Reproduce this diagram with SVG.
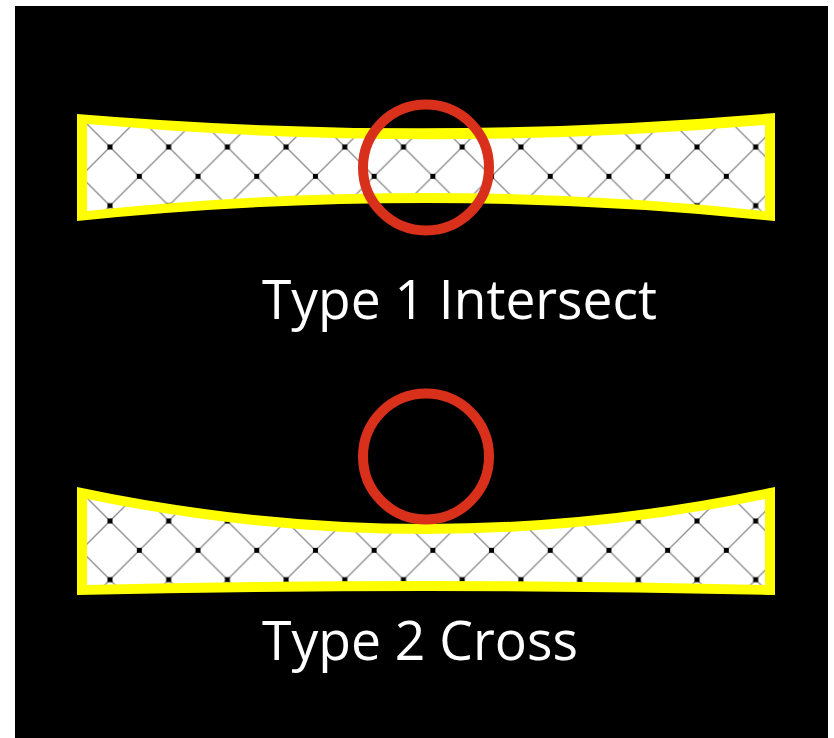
<svg xmlns="http://www.w3.org/2000/svg" width="834" height="738" viewBox="0 0 834 738">
<defs>
<style>
.lbl{font-family:"Open Sans","Noto Sans","Liberation Sans",sans-serif;font-size:54px;fill:#ffffff}
.ring{fill:none;stroke:#d8301b;stroke-width:10}
.frame{fill:#ffff00}
.lat line{stroke:#8e8e8e;stroke-width:1.3}
.lat rect{fill:#000}
</style>
<pattern id="lat1" class="lat" patternUnits="userSpaceOnUse" x="110" y="147" width="58.7" height="58.7">
<rect x="0" y="0" width="58.7" height="58.7" style="fill:#fff"/>
<line x1="0" y1="0" x2="58.7" y2="58.7"/>
<line x1="58.7" y1="0" x2="0" y2="58.7"/>
<rect x="-2.5" y="-2.5" width="5" height="5"/>
<rect x="56.2" y="-2.5" width="5" height="5"/>
<rect x="-2.5" y="56.2" width="5" height="5"/>
<rect x="56.2" y="56.2" width="5" height="5"/>
<rect x="26.85" y="26.85" width="5" height="5"/>
</pattern>
<pattern id="lat2" class="lat" patternUnits="userSpaceOnUse" x="110" y="521" width="58.7" height="58.7">
<rect x="0" y="0" width="58.7" height="58.7" style="fill:#fff"/>
<line x1="0" y1="0" x2="58.7" y2="58.7"/>
<line x1="58.7" y1="0" x2="0" y2="58.7"/>
<rect x="-2.5" y="-2.5" width="5" height="5"/>
<rect x="56.2" y="-2.5" width="5" height="5"/>
<rect x="-2.5" y="56.2" width="5" height="5"/>
<rect x="56.2" y="56.2" width="5" height="5"/>
<rect x="26.85" y="26.85" width="5" height="5"/>
</pattern>
</defs>
<rect x="0" y="0" width="834" height="738" fill="#ffffff"/>
<rect x="15" y="6" width="813" height="732" fill="#000000"/>
<g id="type1">
<path class="frame" d="M77,114 Q426,143 775,113 L775,221 Q426,185 77,221 Z"/>
<path fill="url(#lat1)" d="M87,124 Q426,154 765,125 L765,211 Q426,175 87,211 Z"/>
<circle class="ring" cx="426" cy="167.5" r="63"/>
<text class="lbl" x="262" y="319" textLength="395" lengthAdjust="spacingAndGlyphs">Type 1 Intersect</text>
</g>
<g id="type2">
<path class="frame" d="M77,487 Q426,561 775,487 L775,595 Q426,587 77,595 Z"/>
<path fill="url(#lat2)" d="M87,499 Q426,569 765,499 L765,585 Q426,577 87,585 Z"/>
<circle class="ring" cx="426" cy="456.5" r="63"/>
<text class="lbl" x="262" y="660" textLength="316" lengthAdjust="spacingAndGlyphs">Type 2 Cross</text>
</g>
<g id="connectors"/>
</svg>
